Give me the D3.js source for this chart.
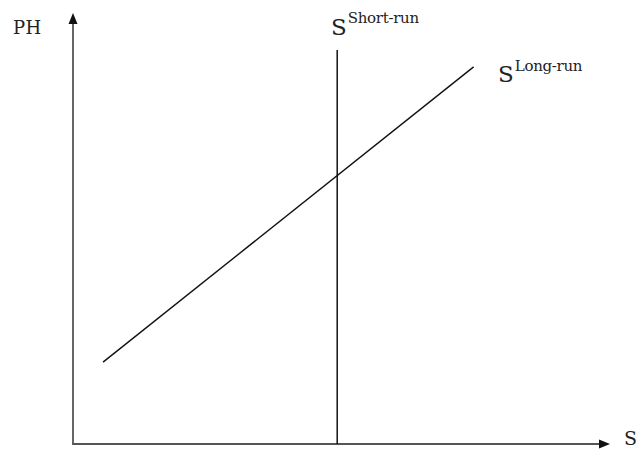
<!DOCTYPE html>
<html><head><meta charset="utf-8">
<script src="https://cdn.jsdelivr.net/npm/d3@7"></script>
<style>body{margin:0;background:#fff}svg{display:block}</style>
</head><body>
<svg id="c" width="640" height="450"></svg>
<script>
const axisLabels = ["PH", "S"];
const shortRunX = [49.2];
const shortRunY = [0, 91.4];
const longRunX = [5.6, 74.6];
const longRunY = [19, 87.5];
const curveNames = ["Short-run", "Long-run"];

const svg = d3.select("#c");
const x = d3.scaleLinear().domain([0, 100]).range([73, 610]);
const y = d3.scaleLinear().domain([0, 100]).range([444, 13]);
const font = "'DejaVu Serif', 'Liberation Serif', serif";

// axes
svg.append("line").attr("x1", x(0)).attr("x2", x(0)).attr("y1", y(0)).attr("y2", y(100) + 8)
  .attr("stroke", "#555").attr("stroke-width", 1.8);
svg.append("line").attr("x1", x(0) - 0.9).attr("x2", x(100) - 8).attr("y1", y(0)).attr("y2", y(0))
  .attr("stroke", "#555").attr("stroke-width", 1.8);
svg.append("path").attr("d", `M${x(0)},${y(100)} L${x(0)-4.5},${y(100)+11} L${x(0)+4.5},${y(100)+11} Z`).attr("fill", "#111");
svg.append("path").attr("d", `M${x(100)},${y(0)} L${x(100)-11},${y(0)-4.5} L${x(100)-11},${y(0)+4.5} Z`).attr("fill", "#111");

// curves
svg.append("line").attr("x1", x(shortRunX[0])).attr("x2", x(shortRunX[0]))
  .attr("y1", y(shortRunY[0])).attr("y2", y(shortRunY[1])).attr("stroke", "#111").attr("stroke-width", 1.5);
svg.append("line").attr("x1", x(longRunX[0])).attr("x2", x(longRunX[1]))
  .attr("y1", y(longRunY[0])).attr("y2", y(longRunY[1])).attr("stroke", "#111").attr("stroke-width", 1.4);

// labels
svg.append("text").attr("x", 13).attr("y", 34).attr("font-family", font).attr("font-size", 18)
  .attr("letter-spacing", 0.5).attr("fill", "#222").text(axisLabels[0]);
svg.append("text").attr("x", 624).attr("y", 445).attr("font-family", font).attr("font-size", 19)
  .attr("fill", "#222").text(axisLabels[1]);

function supLabel(px, py, name, dy) {
  const t = svg.append("text").attr("x", px).attr("y", py).attr("font-family", font).attr("fill", "#222");
  t.append("tspan").attr("font-size", 23).text("S");
  t.append("tspan").attr("font-size", 15).attr("dy", dy).attr("dx", 1).attr("letter-spacing", -0.3).text(name);
}
supLabel(331, 35, curveNames[0], -12);
supLabel(498, 82, curveNames[1], -11);
</script>
</body></html>
